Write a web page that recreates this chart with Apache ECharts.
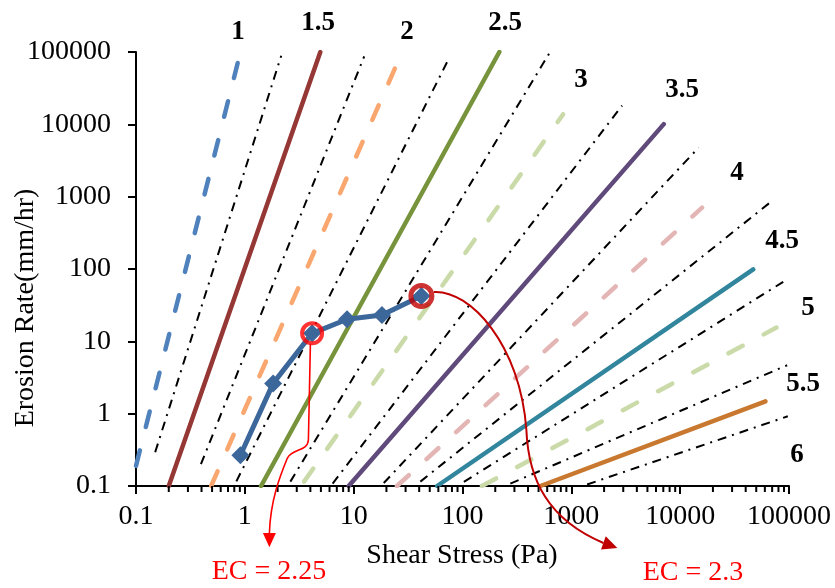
<!DOCTYPE html>
<html><head><meta charset="utf-8">
<script src="https://cdn.jsdelivr.net/npm/echarts@6/dist/echarts.min.js"></script>
<style>html,body{margin:0;padding:0;background:#fff}#c{width:835px;height:588px}</style>
</head><body><div id="c"></div>
<script>
const FONT = '"Liberation Serif","Times New Roman",serif';

// Erosion category (EC) lines: start / end points [shear stress (Pa), erosion rate (mm/hr)]
const ecNames  = ['1','1.5','2','2.5','3','3.5','4','4.5','5','5.5'];
const ecStart  = [[0.1,0.19],[0.2,0.1],[0.49,0.1],[1.41,0.1],[3.5,0.115],[9.0,0.1],[25,0.1],[58.5,0.1],[151,0.1],[520,0.1]];
const ecEnd    = [[0.86,70500],[4.94,100000],[27.9,100000],[218,100000],[841,13800],[7070,10070],[15900,705],[46900,98.6],[76700,15.5],[60800,1.48]];

// dash-dot separator lines between categories
const sepStart = [[0.15,0.293],[0.395,0.2],[0.836,0.116],[2.62,0.115],[6.41,0.108],[18.9,0.11],[41,0.115],[103,0.114],[275,0.108],[1396,0.105]];
const sepEnd   = [[2.16,88900],[12.5,87000],[76.2,85300],[630,97000],[2930,18200],[14800,4780],[71600,900],[88500,66.5],[96100,4.67],[97500,0.92]];

// Category labels
const catLabels = ['1','1.5','2','2.5','3','3.5','4','4.5','5','5.5','6'];

// Measured erosion function
const shearStress = [0.91, 1.82, 4.15, 8.7, 18.2, 41.9];
const erosionRate = [0.266, 2.62, 12.9, 20.2, 23.1, 42.4];
const circledIdx  = [2, 5];
const ecResults   = ['EC = 2.25', 'EC = 2.3'];

// axis
const axisMin = 0.1, axisMax = 100000;
const minorMultipliers = [2,3,4,5,6,7,8,9];
const decadeStarts = [0.1,1,10,100,1000,10000];

// ---------- styles (kept separate from data) ----------
const ecColors = ['#4F81BD','#953735','#F9A66F','#77933C','#CADBA9','#604A7B','#E3B6B5','#31859C','#CADBA9','#C8782F'];
const ecDashed = [true,false,true,false,true,false,true,false,true,false];
const labelPos = [[238,32],[318,23],[407,32],[505,23],[581,80],[682,90],[737,173],[782,241],[808,308],[803,384],[797,455]];
const circleColors = ['#FF0000','#C00000'];
const circleSizes = [20, 21];
const circleBorder = [4, 5];
const dataColor = '#3C679A';

const minorX = [];
decadeStarts.forEach(d => minorMultipliers.forEach(m => minorX.push(+(d*m).toPrecision(6))));

const fmt = v => String(+Number(v).toPrecision(6));

const chart = echarts.init(document.getElementById('c'), null, {renderer:'canvas'});

const series = [];
sepStart.forEach((s, i) => {
  series.push({
    type:'line', data:[s, sepEnd[i]], symbol:'none', silent:true, z:2,
    lineStyle:{color:'#000', width:2, type:[9,6,2,6], cap:'butt'}
  });
});
ecStart.forEach((s, i) => {
  series.push({
    type:'line', name:'EC '+ecNames[i], data:[s, ecEnd[i]], symbol:'none', silent:true, z:3,
    lineStyle:{color:ecColors[i], width: ecDashed[i] ? 4.5 : 4.5, type: ecDashed[i] ? [16,24] : 'solid', cap:'round'}
  });
});
series.push({
  type:'line', name:'measured', data: shearStress.map((x,i)=>[x, erosionRate[i]]),
  symbol:'diamond', symbolSize:18, showSymbol:true, silent:true, z:5,
  lineStyle:{color:dataColor, width:5}, itemStyle:{color:dataColor}
});
series.push({
  type:'scatter', silent:true, z:6,
  data: circledIdx.map((k,j)=>({
    value:[shearStress[k], erosionRate[k]], symbolSize:circleSizes[j],
    itemStyle:{color:'rgba(0,0,0,0)', borderColor:circleColors[j], borderWidth:circleBorder[j]}
  })),
  symbol:'circle'
});
series.push({
  type:'custom', coordinateSystem:'cartesian2d', clip:false, silent:true, z:10,
  data: minorX.map(v=>[v, axisMin]),
  renderItem: (params, api) => {
    const p = api.coord([api.value(0), api.value(1)]);
    return {type:'line', shape:{x1:p[0], y1:p[1], x2:p[0], y2:p[1]+6}, style:{stroke:'#000', lineWidth:2}};
  }
});

const axisCommon = {
  type:'log', logBase:10, min:axisMin, max:axisMax, splitNumber:6,
  axisLine:{show:true, onZero:false, lineStyle:{color:'#000', width:2}},
  axisTick:{show:true, inside:false, length:8, lineStyle:{color:'#000', width:2}},
  splitLine:{show:false},
  minorTick:{show:false}, minorSplitLine:{show:false}
};

chart.setOption({
  animation:false,
  backgroundColor:'#fff',
  grid:{left:136, right:46, top:52, bottom:102, containLabel:false},
  xAxis: Object.assign({}, axisCommon, {
    axisLabel:{color:'#000', fontFamily:FONT, fontSize:28, margin:17, formatter:fmt}
  }),
  yAxis: Object.assign({}, axisCommon, {
    axisLabel:{color:'#000', fontFamily:FONT, fontSize:28, margin:25, formatter:fmt}
  }),
  series: series
});

// annotations anchored to the circled points
const c1 = chart.convertToPixel({gridIndex:0}, [shearStress[circledIdx[0]], erosionRate[circledIdx[0]]]);
const c2 = chart.convertToPixel({gridIndex:0}, [shearStress[circledIdx[1]], erosionRate[circledIdx[1]]]);
const P1 = (dx,dy)=>[c1[0]+dx, c1[1]+dy];
const P2 = (dx,dy)=>[c2[0]+dx, c2[1]+dy];

function arrowHead(b, t, hw){
  const dx=t[0]-b[0], dy=t[1]-b[1], L=Math.hypot(dx,dy);
  const nx=-dy/L*hw, ny=dx/L*hw;
  return [[b[0]+nx,b[1]+ny],[t[0],t[1]],[b[0]-nx,b[1]-ny]];
}
function bez(a, cp1, cp2, b, color, w){
  return {type:'bezierCurve', silent:true, z:100,
    shape:{x1:a[0],y1:a[1],cpx1:cp1[0],cpy1:cp1[1],cpx2:cp2[0],cpy2:cp2[1],x2:b[0],y2:b[1]},
    style:{stroke:color, lineWidth:w, fill:null}};
}

// arrow 1 (bright red)
const a1 = [P1(-1.7,10.5), P1(-3.7,106.7), P1(-4.7,118.7), P1(-19.7,114.7), P1(-24.7,124.7), P1(-31.7,141.7), P1(-41.7,166.7), P1(-42.7,199.7)];
const tip1 = P1(-42.7,214);
// arrow 2 (dark red)
const a2 = [P2(12.5,-4), P2(49,-6), P2(99,49), P2(105,134), P2(107,184), P2(127,224), P2(182,247)];
const tip2 = P2(196,252);

const graphics = [];
catLabels.forEach((t,i)=>{
  graphics.push({type:'text', silent:true, x:labelPos[i][0], y:labelPos[i][1],
    style:{text:t, fill:'#000', font:'bold 27px '+FONT, textAlign:'center', textVerticalAlign:'middle'}});
});
graphics.push({type:'text', silent:true, x:462, y:556,
  style:{text:'Shear Stress (Pa)', fill:'#000', font:'28px '+FONT, textAlign:'center', textVerticalAlign:'middle'}});
graphics.push({type:'text', silent:true, x:26, y:308, rotation:Math.PI/2,
  style:{text:'Erosion Rate(mm/hr)', fill:'#000', font:'28px '+FONT, textAlign:'center', textVerticalAlign:'middle'}});

graphics.push({type:'line', silent:true, z:100, shape:{x1:a1[0][0],y1:a1[0][1],x2:a1[1][0],y2:a1[1][1]}, style:{stroke:'#FF0000', lineWidth:1.6}});
graphics.push(bez(a1[1], a1[2], a1[3], a1[4], '#FF0000', 1.6));
graphics.push(bez(a1[4], a1[5], a1[6], a1[7], '#FF0000', 1.6));
graphics.push({type:'polygon', silent:true, z:100, shape:{points:arrowHead(a1[7], tip1, 6.5)}, style:{fill:'#FF0000'}});

graphics.push(bez(a2[0], a2[1], a2[2], a2[3], '#C00000', 2));
graphics.push(bez(a2[3], a2[4], a2[5], a2[6], '#C00000', 2));
graphics.push({type:'polygon', silent:true, z:100, shape:{points:arrowHead(a2[6], tip2, 7)}, style:{fill:'#C00000'}});

graphics.push({type:'text', silent:true, x:269, y:572,
  style:{text:ecResults[0], fill:'#FF0000', font:'28px '+FONT, textAlign:'center', textVerticalAlign:'middle'}});
graphics.push({type:'text', silent:true, x:693, y:573,
  style:{text:ecResults[1], fill:'#FF0000', font:'28px '+FONT, textAlign:'center', textVerticalAlign:'middle'}});

chart.setOption({graphic: graphics});
</script></body></html>
